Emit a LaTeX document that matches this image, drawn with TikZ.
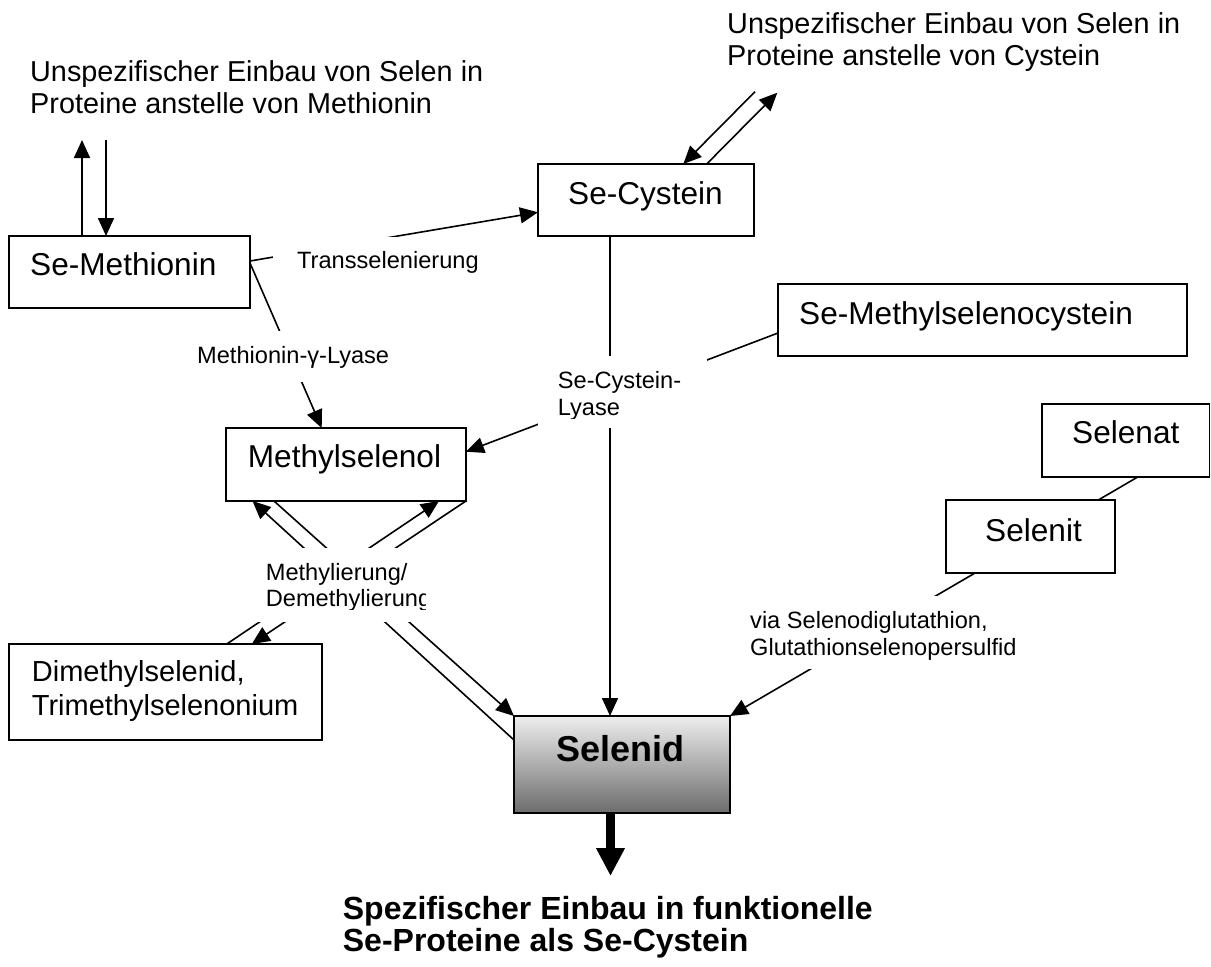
\documentclass[tikz,border=0pt]{standalone}
\usepackage{fontspec}
\setmainfont{Liberation Sans}
\usetikzlibrary{arrows.meta,calc,backgrounds}
\definecolor{selTop}{RGB}{238,238,238}
\definecolor{selBot}{RGB}{108,108,108}
\begin{document}
\begin{tikzpicture}[x=1pt,y=-1pt,
  box/.style={draw, line width=1.9pt, fill=white, inner sep=0pt, outer sep=0pt, anchor=north west},
  lbl/.style={fill=white, inner sep=0pt, outer sep=0pt, anchor=north west},
  conn/.style={line width=1.6pt},
  arr/.style={conn, -{Triangle[length=18pt,width=16pt]}},
  bigtxt/.style={font=\fontsize{31.6}{36}\selectfont, inner sep=0pt, anchor=base west},
  midtxt/.style={font=\fontsize{29}{33.3}\selectfont, inner sep=0pt, anchor=north west, align=left},
  toptxt/.style={font=\fontsize{28.8}{32.6}\selectfont, inner sep=0pt, anchor=north west, align=left},
  lbltxt/.style={font=\fontsize{23.6}{26.8}\selectfont, inner sep=0pt, anchor=north west, align=left},
  boldtxt/.style={font=\fontsize{36}{40}\selectfont\bfseries, inner sep=0pt, anchor=base west},
  endtxt/.style={font=\fontsize{32}{32.4}\selectfont\bfseries, inner sep=0pt, anchor=north west, align=left}]
\useasboundingbox (0,0) rectangle (1211,967);

% boxes
\node[box, minimum width=241pt, minimum height=72pt] (meth) at (9,236) {};
\node[box, minimum width=216pt, minimum height=72pt] (cys) at (538,164) {};
\node[box, minimum width=240pt, minimum height=73pt] (msel) at (226,428) {};
\node[box, top color=selTop, bottom color=selBot, minimum width=216pt, minimum height=97pt] (sid) at (514,716) {};
\node[box, minimum width=409pt, minimum height=72pt] (msc) at (778,284) {};
\node[box, minimum width=167.5pt, minimum height=73pt] (snat) at (1042,404) {};
\node[box, minimum width=169pt, minimum height=73pt] (snit) at (946,500) {};
\node[box, minimum width=313pt, minimum height=96pt] (dms) at (9,644) {};

% box texts
\node[bigtxt] (tMeth) at (30,275) {Se-Methionin};
\node[bigtxt] (tCys) at (568,204) {Se-Cystein};
\node[bigtxt] (tMsel) at (247.7,467.7) {Methylselenol};
\node[bigtxt] (tMsc) at (799,324) {Se-Methylselenocystein};
\node[bigtxt] (tSnat) at (1072,443.3) {Selenat};
\node[bigtxt] (tSnit) at (985,541) {Selenit};
\node[boldtxt] (tSid) at (556.7,761.7) {Selenid};
\node[midtxt] (tDms) at (31.7,660.5) {Dimethylselenid,\\Trimethylselenonium};

% free texts
\node[toptxt] (tUnMet) at (30,60) {Unspezifischer Einbau von Selen in\\Proteine anstelle von Methionin};
\node[toptxt] (tUnCys) at (727,12) {Unspezifischer Einbau von Selen in\\Proteine anstelle von Cystein};
\node[endtxt] (tEnd) at (342.7,896) {Spezifischer Einbau in funktionelle\\Se-Proteine als Se-Cystein};

% label boxes (white, covering the connectors)
\node[lbl, minimum width=217pt, minimum height=48pt] (lTrans) at (273,237) {};
\node[lbl, minimum width=237pt, minimum height=51pt] (lGamma) at (178,331) {};
\node[lbl, minimum width=169pt, minimum height=72pt] (lLyase) at (538,356) {};
\node[lbl, minimum width=180pt, minimum height=74pt] (lMeth) at (245,548) {};
\node[lbl, minimum width=305pt, minimum height=73pt] (lVia) at (730,596) {};

\node[lbltxt, anchor=base west] (tTrans) at (297,268.3) {Transselenierung};
\node[lbltxt, anchor=base west] (tGamma) at (197,363.3) {Methionin-γ-Lyase};
\begin{scope}
  \clip (lLyase.north west) rectangle ($(lLyase.north east)+(0,62)$);
  \node[lbltxt] (tLyase) at (557.7,371.1) {Se-Cystein-\\Lyase};
\end{scope}
\begin{scope}
  \clip (lMeth.north west) rectangle ($(lMeth.north east)+(0,61)$);
  \node[lbltxt] (tMethyl) at (265.7,562.8) {Methylierung/\\Demethylierung};
\end{scope}
\node[lbltxt] (tVia) at (750,611.1) {via Selenodiglutathion,\\Glutathionselenopersulfid};

% free ends
\coordinate (mUpEnd) at (82,140);
\coordinate (mDownStart) at (106,139.5);
\coordinate (cDownStart) at (755,91.7);
\coordinate (cUpEnd) at (777.3,92.7);
\coordinate (outEnd) at (610.5,876);

% connectors
\begin{scope}[on background layer]
  \draw[arr] ($(meth.north west)+(73,0)$) -- (mUpEnd);
  \draw[arr] (mDownStart) -- ($(meth.north west)+(97,0)$);
  \draw[arr] ($(meth.north east)+(0,25)$) -- ($(cys.north west)+(0,48.3)$);
  \draw[arr] ($(meth.north east)+(0,27)$) -- ($(msel.north west)+(95.7,0)$);
  \draw[arr] (cDownStart) -- ($(cys.north west)+(145.3,0)$);
  \draw[arr] ($(cys.north west)+(168.7,0)$) -- (cUpEnd);
  \draw[arr] ($(cys.south west)+(72,0)$) -- ($(sid.north west)+(96,0)$);
  \draw[arr] ($(msc.north west)+(0,49)$) -- ($(msel.north east)+(0,23.7)$);
  \draw[arr] ($(sid.north west)+(0,24)$) -- ($(msel.south west)+(26.5,0)$);
  \draw[arr] ($(msel.south west)+(48,0)$) -- (sid.north west);
  \draw[arr] ($(dms.north west)+(217.8,0)$) -- ($(msel.south west)+(213,0)$);
  \draw[arr] (msel.south east) -- ($(dms.north west)+(242.8,0)$);
  \draw[conn] ($(snat.south west)+(95.7,0)$) -- ($(snit.north west)+(152.3,0)$);
  \draw[arr] ($(snit.south west)+(29,0)$) -- (sid.north east);
  \draw[line width=9pt, -{Triangle[length=28pt,width=27pt]}] ($(sid.south west)+(96.5,0)$) -- (outEnd);
\end{scope}
\end{tikzpicture}
\end{document}
